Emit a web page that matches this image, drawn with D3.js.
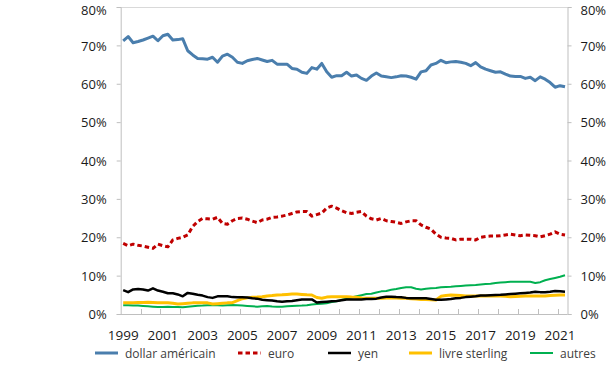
<!DOCTYPE html>
<html><head><meta charset="utf-8">
<script src="https://cdn.jsdelivr.net/npm/d3@7"></script>
<style>body{margin:0;background:#fff}svg{display:block}</style>
</head><body>
<svg id="c" width="610" height="366"></svg>
<script>
const years = d3.range(1999, 2022);
const quarters = [];
years.forEach(y => [1,2,3,4].forEach(q => { if (!(y === 2021 && q > 2)) quarters.push(y + "T" + q); }));
const yTicks = [0,10,20,30,40,50,60,70,80];
const xTickLabels = ["1999","2001","2003","2005","2007","2009","2011","2013","2015","2017","2019","2021"];

const usd = [71.2,72.3,70.7,71.0,71.4,71.9,72.4,71.2,72.5,72.9,71.4,71.5,71.7,68.6,67.5,66.6,66.5,66.4,66.9,65.6,67.2,67.7,66.9,65.6,65.3,66.0,66.3,66.6,66.2,65.8,66.1,65.1,65.1,65.1,64.0,63.8,63.0,62.7,64.2,63.8,65.3,63.1,61.7,62.1,62.1,63.0,62.0,62.3,61.4,60.9,62.0,62.8,62.0,61.8,61.6,61.8,62.1,62.0,61.7,61.2,63.1,63.4,64.9,65.3,66.1,65.5,65.7,65.8,65.6,65.3,64.7,65.5,64.4,63.8,63.4,63.0,63.1,62.5,62.0,61.9,61.9,61.4,61.7,60.8,61.8,61.2,60.3,59.1,59.5,59.2];
const eur = [18.4,17.8,18.2,17.9,17.7,17.4,17.1,18.2,17.8,17.5,19.3,19.7,20.0,20.6,22.8,24.1,24.9,24.8,24.7,25.2,23.6,23.4,24.3,24.9,25.0,24.7,24.2,23.8,24.5,24.7,25.2,25.3,25.5,25.8,26.2,26.6,26.7,26.7,25.5,25.9,26.3,27.6,28.1,27.6,26.9,26.4,26.2,26.5,26.7,25.5,24.8,24.5,24.9,24.3,24.1,23.9,23.6,24.0,24.3,24.3,23.2,22.6,22.1,20.8,20.0,19.8,19.7,19.3,19.5,19.5,19.5,19.3,20.0,20.2,20.3,20.3,20.4,20.6,20.8,20.6,20.4,20.6,20.5,20.4,20.1,20.4,20.8,21.4,20.8,20.6];
const jpy = [6.2,5.7,6.4,6.5,6.4,6.1,6.7,6.1,5.8,5.4,5.4,5.1,4.6,5.5,5.3,5.0,4.8,4.4,4.2,4.6,4.6,4.6,4.4,4.35,4.35,4.3,4.1,4.0,3.7,3.6,3.5,3.3,3.2,3.3,3.4,3.6,3.8,3.8,3.8,3.0,3.1,3.2,3.3,3.4,3.6,3.8,3.8,3.8,3.8,3.9,3.9,4.0,4.3,4.5,4.5,4.4,4.35,4.2,4.1,4.1,4.1,4.1,3.9,3.7,3.7,3.8,3.9,4.1,4.2,4.4,4.5,4.6,4.8,4.8,4.9,4.95,5.0,5.1,5.2,5.3,5.4,5.5,5.6,5.8,5.7,5.65,5.8,6.0,5.9,5.8];
const gbp = [2.95,2.95,2.95,3.0,3.0,3.05,3.0,2.95,2.95,2.95,2.8,2.6,2.7,2.8,2.9,2.95,2.95,2.9,2.6,2.7,2.8,2.9,2.95,3.5,4.0,4.2,4.35,4.4,4.5,4.7,4.8,4.95,5.0,5.1,5.2,5.2,5.1,5.0,4.95,4.3,4.1,4.4,4.5,4.5,4.5,4.5,4.4,4.35,4.2,4.1,4.1,4.1,4.1,4.2,4.25,4.2,4.1,4.1,4.0,3.9,3.8,3.8,3.7,3.65,4.6,4.8,4.95,4.9,4.8,4.7,4.7,4.7,4.7,4.7,4.7,4.7,4.7,4.6,4.5,4.55,4.6,4.7,4.7,4.7,4.7,4.7,4.8,4.9,4.95,4.95];
const other = [2.25,2.25,2.2,2.2,2.1,2.0,1.9,1.8,1.8,1.9,1.85,1.8,1.75,1.9,2.05,2.15,2.2,2.3,2.35,2.3,2.2,2.3,2.35,2.3,2.2,2.1,2.0,1.9,2.0,2.1,1.95,1.9,1.9,2.0,2.1,2.15,2.2,2.3,2.5,2.6,2.7,2.8,3.1,3.3,3.7,4.0,4.3,4.6,4.9,5.2,5.3,5.6,5.9,6.0,6.3,6.5,6.8,7.0,6.95,6.6,6.4,6.6,6.7,6.8,6.95,7.05,7.1,7.2,7.3,7.4,7.5,7.55,7.7,7.8,7.9,8.1,8.2,8.3,8.4,8.4,8.4,8.4,8.4,8.1,8.3,8.8,9.1,9.4,9.7,10.1];

const seriesNames = ["dollar américain","euro","yen","livre sterling","autres"];
const seriesData = [usd, eur, jpy, gbp, other];
const seriesColors = ["#4a7ead","#c00000","#000000","#ffc000","#00b050"];
const seriesWidths = [3, 3, 2.5, 3, 2];
const seriesDash = [null, "4.5,3", null, null, null];

const svg = d3.select("#c");
const L = 120.7, R = 567.5, T = 7, B = 314;
const x = d3.scaleBand().domain(quarters).range([L, R]).padding(0);
const y = d3.scaleLinear().domain([0, 80]).range([B, T]);
const font = "'Open Sans', 'Noto Sans', sans-serif";

svg.append("line").attr("x1", L).attr("x2", R).attr("y1", T + 0.5).attr("y2", T + 0.5)
  .attr("stroke", "#d9d9d9").attr("stroke-width", 1);

const leftAxis = d3.axisLeft(y).tickValues(yTicks).tickSize(4).tickPadding(10).tickFormat(d => d + "%");
const gl = svg.append("g").attr("transform", `translate(${L},0)`).call(leftAxis);
const rightAxis = d3.axisRight(y).tickValues(yTicks).tickSize(4).tickPadding(9).tickFormat(d => d + "%");
const gr = svg.append("g").attr("transform", `translate(${R},0)`).call(rightAxis);
[gl, gr].forEach(g => {
  g.select(".domain").attr("stroke", "#bfbfbf");
  g.selectAll(".tick line").attr("stroke", "#bfbfbf");
  g.selectAll("text").attr("font-family", font).attr("font-size", 13).attr("fill", "#1a1a1a")
    .attr("dy", d => d === 80 ? "0.58em" : "0.36em");
});

const gb = svg.append("g").attr("transform", `translate(0,${B})`);
gb.append("line").attr("x1", L).attr("x2", R).attr("y1", 0.5).attr("y2", 0.5).attr("stroke", "#bfbfbf");
const boundaryTicks = quarters.filter((q, i) => i > 0 && i % 4 === 0);
gb.selectAll("line.tk").data(boundaryTicks).join("line").attr("class", "tk")
  .attr("x1", d => Math.round(x(d)) + 0.5).attr("x2", d => Math.round(x(d)) + 0.5)
  .attr("y1", 0).attr("y2", -5).attr("stroke", "#bfbfbf");
gb.selectAll("text").data(xTickLabels).join("text")
  .attr("x", d => x(d + "T1") + x.bandwidth() / 2)
  .attr("y", 26).attr("text-anchor", "middle")
  .attr("font-family", font).attr("font-size", 13.5).attr("fill", "#1a1a1a")
  .text(d => d);

const line = d3.line().x((d, i) => x(quarters[i]) + x.bandwidth() / 2).y(d => y(d)).curve(d3.curveLinear);
const order = [4, 3, 2, 1, 0];
order.forEach(k => {
  svg.append("path").datum(seriesData[k]).attr("d", line)
    .attr("fill", "none").attr("stroke", seriesColors[k]).attr("stroke-width", seriesWidths[k])
    .attr("stroke-linejoin", "round")
    .attr("stroke-dasharray", seriesDash[k]);
});

const legendX = [95, 238, 328, 409, 530];
const lg = svg.append("g").attr("transform", "translate(0,353)");
seriesNames.forEach((n, k) => {
  const g = lg.append("g").attr("transform", `translate(${legendX[k]},0)`);
  g.append("line").attr("x1", 0).attr("x2", 23).attr("y1", 0).attr("y2", 0)
    .attr("stroke", seriesColors[k]).attr("stroke-width", seriesWidths[k])
    .attr("stroke-dasharray", seriesDash[k]);
  g.append("text").attr("x", 30).attr("y", 4.5).attr("font-family", font).attr("font-size", 12)
    .attr("fill", "#404040").text(n);
});
</script>
</body></html>
